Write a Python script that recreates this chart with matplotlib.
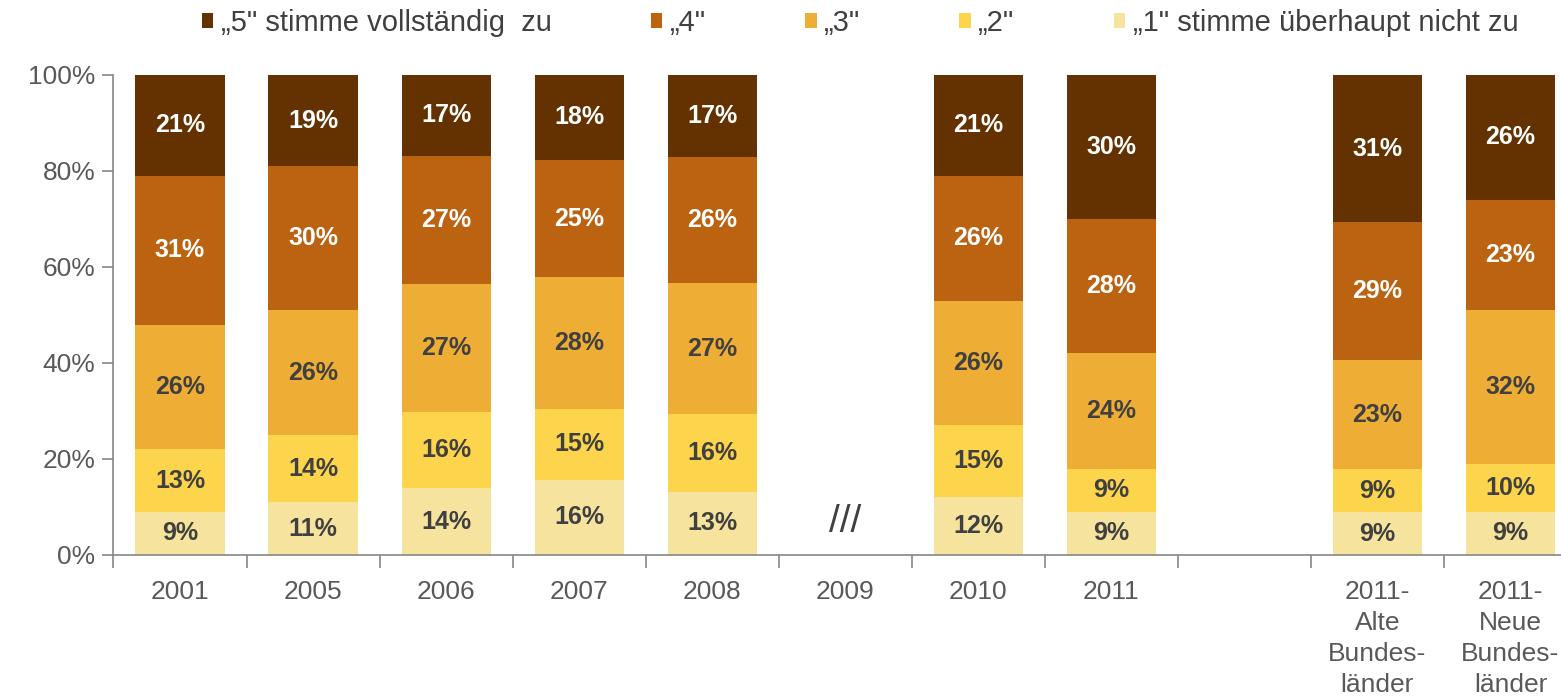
import matplotlib
matplotlib.use("Agg")
import matplotlib.pyplot as plt
import numpy as np

plt.rcParams['font.family'] = ['Liberation Sans', 'DejaVu Sans']

categories = ["2001", "2005", "2006", "2007", "2008", "2009", "2010", "2011", "",
              "2011-\nAlte\nBundes-\nländer", "2011-\nNeue\nBundes-\nländer"]
# values in percent, None = no data
s1 = [9, 11, 14, 16, 13, None, 12, 9, None, 9, 9]
s2 = [13, 14, 16, 15, 16, None, 15, 9, None, 9, 10]
s3 = [26, 26, 27, 28, 27, None, 26, 24, None, 23, 32]
s4 = [31, 30, 27, 25, 26, None, 26, 28, None, 29, 23]
s5 = [21, 19, 17, 18, 17, None, 21, 30, None, 31, 26]
series_names = ['„5" stimme vollständig  zu', '„4"', '„3"', '„2"', '„1" stimme überhaupt nicht zu']
missing_label = "///"

colors = {"5": "#643200", "4": "#BB6311", "3": "#EEAE35", "2": "#FDD54C", "1": "#F6E39D"}
text_colors = {"5": "white", "4": "white", "3": "#404040", "2": "#404040", "1": "#404040"}

fig = plt.figure(figsize=(15.61, 6.98), dpi=100)
W, H = 1561, 698
ax = fig.add_axes([113.5 / W, (H - 555) / H, (1577 - 113.5) / W, (555 - 75) / H])

x = np.arange(len(categories))
stack = [("1", s1), ("2", s2), ("3", s3), ("4", s4), ("5", s5)]
bw = 0.67
handles = {}
for i in range(len(categories)):
    if s1[i] is None:
        continue
    total = sum(s[i] for _, s in stack)
    bottom = 0.0
    for key, s in stack:
        h = s[i] / total
        b = ax.bar(x[i], h, bottom=bottom, width=bw, color=colors[key], edgecolor='none')
        handles[key] = b
        ax.text(x[i], bottom + h / 2, f"{s[i]}%", ha='center', va='center',
                fontsize=18, fontweight='bold', color=text_colors[key])
        bottom += h

# missing year marker
idx9 = categories.index("2009")
ax.text(x[idx9], 0.068, missing_label, ha='center', va='center', fontsize=28, color='#404040')

ax.set_xlim(-0.5, len(categories) - 0.5)
ax.set_ylim(0, 1)
ax.set_yticks(np.linspace(0, 1, 6))
ax.set_yticklabels([f"{int(v*100)}%" for v in np.linspace(0, 1, 6)])
ax.set_xticks(x)
ax.set_xticklabels(categories, linespacing=1.36)
ax.set_xticks(np.arange(-0.5, len(categories), 1), minor=True)
ax.tick_params(axis='x', which='major', length=0, pad=18, labelsize=19, labelcolor='#595959')
ax.tick_params(axis='x', which='minor', length=9, width=1.2, color='#868686', direction='out')
ax.tick_params(axis='y', length=8, width=1.2, color='#868686', labelsize=19, labelcolor='#595959', pad=5)

for sp in ['top', 'right']:
    ax.spines[sp].set_visible(False)
for sp in ['left', 'bottom']:
    ax.spines[sp].set_color('#868686')
    ax.spines[sp].set_linewidth(1.2)

leg_handles = [handles["5"], handles["4"], handles["3"], handles["2"], handles["1"]]
leg = fig.legend(leg_handles, series_names, loc='center', bbox_to_anchor=(0.551, 1 - 23 / H),
                 ncol=5, frameon=False, fontsize=21, handlelength=0.4, handleheight=0.4,
                 handletextpad=0.25, columnspacing=3.4, labelcolor='#404040')

fig.savefig("out.png", dpi=100)
